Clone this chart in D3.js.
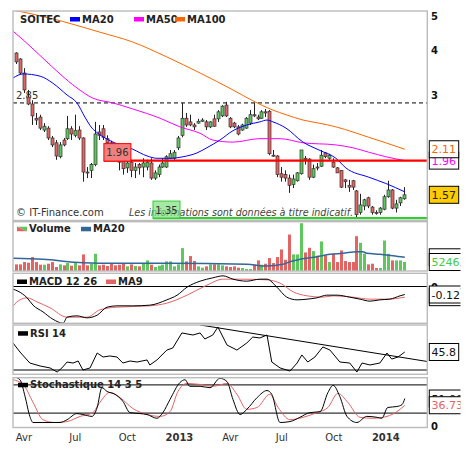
<!DOCTYPE html>
<html>
<head>
<meta charset="utf-8">
<script src="https://cdn.jsdelivr.net/npm/d3@7"></script>
<style>
  body { margin: 0; background: #fff; }
  svg { display: block; font-family: "DejaVu Sans", Verdana, sans-serif; }
</style>
</head>
<body>
<div id="chart"></div>
<script>
// weekly candles, first one is the week of 19 March 2012
const firstWeek = new Date(2012, 2, 19);

// [open, high, low, close]
const candles = [
  [3.94,3.96,3.67,3.72],[3.79,3.81,3.42,3.46],[3.46,3.57,3.04,3.10],[2.96,3.10,2.81,2.83],
  [2.83,2.90,2.47,2.62],[2.58,2.67,2.47,2.55],[2.60,2.64,2.39,2.42],[2.39,2.50,2.36,2.45],
  [2.42,2.45,2.24,2.27],[2.27,2.30,2.14,2.17],[2.20,2.24,1.97,2.02],[2.01,2.21,1.99,2.17],
  [2.24,2.27,2.15,2.17],[2.26,2.62,2.24,2.41],[2.41,2.45,2.24,2.33],[2.31,2.64,2.28,2.38],
  [2.39,2.45,2.24,2.27],[2.27,2.28,1.71,1.82],[1.82,1.88,1.75,1.81],[1.84,1.93,1.75,1.91],
  [1.91,2.52,1.89,2.33],[2.36,2.47,2.24,2.31],[2.41,2.47,2.24,2.28],[2.26,2.31,2.15,2.20],
  [2.20,2.23,2.07,2.10],[2.10,2.13,1.97,2.01],[2.02,2.06,1.84,1.94],[1.97,2.01,1.79,1.86],
  [1.87,1.97,1.81,1.93],[1.94,1.97,1.76,1.84],[1.84,1.93,1.75,1.88],[1.91,1.93,1.79,1.87],
  [1.88,1.99,1.76,1.93],[1.88,1.97,1.84,1.94],[1.93,1.99,1.73,1.75],[1.75,1.84,1.73,1.81],
  [1.79,1.91,1.76,1.88],[1.88,1.99,1.87,1.93],[1.88,2.03,1.87,2.01],[1.99,2.10,1.98,2.05],
  [1.99,2.10,1.97,2.07],[2.13,2.30,2.10,2.27],[2.31,2.85,2.28,2.58],[2.58,2.67,2.44,2.47],
  [2.52,2.64,2.45,2.47],[2.47,2.50,2.39,2.44],[2.50,2.57,2.49,2.53],[2.53,2.58,2.52,2.55],
  [2.52,2.55,2.39,2.44],[2.44,2.53,2.42,2.52],[2.57,2.64,2.44,2.45],[2.57,2.72,2.52,2.69],
  [2.62,2.81,2.60,2.79],[2.81,2.87,2.60,2.62],[2.58,2.60,2.42,2.44],[2.50,2.52,2.42,2.44],
  [2.44,2.47,2.31,2.33],[2.39,2.49,2.38,2.47],[2.42,2.60,2.41,2.58],[2.50,2.72,2.47,2.64],
  [2.64,2.85,2.60,2.62],[2.60,2.64,2.55,2.57],[2.58,2.72,2.57,2.69],[2.69,2.74,2.60,2.67],
  [2.70,2.72,2.03,2.05],[2.03,2.10,2.01,2.02],[2.02,2.03,1.76,1.79],[1.80,1.88,1.71,1.76],
  [1.79,1.84,1.71,1.75],[1.75,1.79,1.59,1.67],[1.68,1.79,1.64,1.74],[1.72,1.82,1.71,1.81],
  [1.80,2.10,1.79,2.10],[1.99,2.02,1.91,1.97],[1.98,1.99,1.73,1.76],[1.76,1.91,1.75,1.86],
  [1.88,1.93,1.84,1.87],[1.89,2.10,1.88,2.03],[2.06,2.07,1.99,2.01],[1.99,2.05,1.97,2.03],
  [1.94,1.99,1.87,1.88],[1.87,1.88,1.81,1.81],[1.84,1.84,1.64,1.65],[1.73,1.74,1.64,1.71],
  [1.67,1.73,1.60,1.65],[1.72,1.73,1.62,1.65],[1.61,1.62,1.35,1.38],[1.40,1.58,1.38,1.47],
  [1.46,1.53,1.42,1.52],[1.54,1.55,1.44,1.46],[1.45,1.46,1.38,1.40],[1.40,1.42,1.38,1.39],
  [1.40,1.45,1.38,1.44],[1.43,1.57,1.42,1.55],[1.55,1.72,1.54,1.62],[1.62,1.63,1.43,1.44],
  [1.44,1.52,1.40,1.48],[1.49,1.55,1.46,1.54],[1.53,1.65,1.52,1.57]
];

const volumes = [
  3870,3870,5220,4840,8120,5220,3680,3680,4250,5220,2320,3870,3290,4640,3090,4640,
  3290,9670,3290,4250,10050,3290,3680,2900,4250,3290,3680,4250,2710,3870,2900,2710,
  4250,6190,3680,2320,3090,3680,5610,5610,2710,3870,13340,5610,8700,5800,2710,1930,
  2710,3870,3870,3870,3290,2710,2320,2710,1930,1740,1160,1160,3680,6190,3680,4250,
  7540,4640,8120,12570,6570,21260,9670,9670,27840,10830,13530,11600,8890,17210,9090,5220,
  10050,5220,11990,5800,5220,5220,20300,16430,10050,3870,4250,1740,1740,17790,10050,6190,
  6190,6190,5246
];

// [week index, value]
const ma20 = [[-0.76,3.35],[1.8,3.44],[6.1,3.39],[9.3,3.24],[12.9,3.00],[15.4,2.85],[17.4,2.60],
  [19.2,2.42],[20.7,2.34],[22.5,2.27],[24.5,2.21],[29.5,2.11],[33.1,2.02],[35.6,1.99],[38.9,1.99],
  [42.2,2.01],[45.7,2.06],[48.2,2.13],[51.5,2.24],[54.8,2.38],[58.3,2.47],[61.6,2.52],[63.4,2.55],
  [64.9,2.52],[68.2,2.42],[72.5,2.21],[76.5,2.10],[80.8,1.99],[83.3,1.87],[89.1,1.76],[93.4,1.69],
  [98.2,1.60]];
const ma50 = [[-0.76,4.54],[1.8,4.29],[6.8,3.81],[11.1,3.44],[15.4,3.14],[19.4,2.94],[24.5,2.85],
  [29.5,2.74],[36.4,2.58],[41.4,2.44],[46.5,2.34],[49.7,2.24],[54.8,2.21],[61.6,2.26],[66.7,2.26],
  [72.5,2.20],[80.8,2.17],[85.1,2.13],[89.1,2.07],[93.4,2.01],[98.2,1.96]];
const ma100 = [[-0.76,5.21],[8.6,4.94],[21.2,4.51],[29.5,4.23],[38.1,3.84],[46.5,3.46],[54.8,3.10],
  [59.8,2.89],[64.9,2.72],[68.2,2.64],[72.5,2.55],[76.5,2.50],[80.8,2.44],[85.1,2.36],[89.1,2.28],
  [93.4,2.20],[98.2,2.11]];

const volMa20 = [[-0.76,7400],[6.8,6820],[16.9,4840],[25.5,4490],[38.1,4490],[58.3,3900],[63.4,2900],
  [67.4,3900],[69.2,5420],[71.7,6820],[76,8340],[79.3,9740],[82.6,10320],[86.1,11250],[87.6,11250],
  [88.6,10320],[91.9,9740],[95.2,8920],[98.2,7990]];

const macd = [[-0.76,-0.04],[0.5,-0.07],[2.8,-0.17],[4.3,-0.28],[6.8,-0.38],[9.3,-0.49],[11.9,-0.55],
  [12.9,-0.46],[15.4,-0.44],[17.9,-0.47],[20.5,-0.43],[23,-0.31],[25.5,-0.29],[29.5,-0.29],[33.8,-0.28],
  [38.1,-0.20],[40.7,-0.13],[43.2,-0.01],[46.5,0.08],[49.7,0.13],[52.3,0.16],[54.8,0.11],[58.3,0.08],
  [61.6,0.11],[63.4,0.11],[65.9,-0.01],[68.4,-0.16],[71,-0.20],[73.5,-0.19],[76,-0.17],[78.5,-0.13],
  [81.1,-0.13],[84.3,-0.16],[86.9,-0.19],[89.4,-0.22],[91.9,-0.20],[94.4,-0.19],[97,-0.14],[98.2,-0.12]];
const macdMa9 = [[-0.76,-0.29],[1.0,-0.20],[2.8,-0.17],[5.3,-0.23],[8.6,-0.32],[12.9,-0.46],[17.9,-0.46],
  [21.2,-0.35],[25.5,-0.31],[33.8,-0.29],[38.1,-0.25],[43.2,-0.13],[48.2,0.02],[52.3,0.11],[56.6,0.11],
  [63.4,0.10],[66.7,0.05],[70,-0.08],[73.5,-0.14],[77.5,-0.16],[80.1,-0.14],[85.1,-0.16],[89.4,-0.19],
  [93.7,-0.19],[98.2,-0.16]];

const rsi = [[-0.76,53.7],[1.0,45.8],[3.5,36.1],[6.1,33.5],[8.6,31.8],[10.4,28.2],[11.6,31.8],[12.9,37.0],
  [14.4,36.1],[15.7,37.9],[16.9,30.0],[18.7,31.8],[20.5,44.9],[22.0,41.4],[23.7,42.3],[25.5,41.4],
  [27.0,36.1],[28.8,37.9],[30.6,37.0],[33.1,38.8],[33.8,34.4],[35.6,38.8],[38.1,47.5],[39.6,49.3],
  [41.9,62.5],[44.7,60.7],[46.5,62.5],[47.7,57.2],[49.7,60.7],[51.0,67.7],[53.3,51.9],[55.8,47.5],
  [58.3,53.7],[59.8,58.9],[61.6,58.1],[63.4,60.7],[64.6,37.0],[66.7,31.8],[69.2,29.1],[71.0,36.1],
  [72.2,43.2],[73.7,37.0],[75.5,41.4],[77.5,50.2],[79.3,47.5],[81.8,37.0],[84.3,36.1],[86.1,28.2],
  [87.4,36.1],[89.4,34.4],[91.9,36.1],[93.7,44.9],[94.9,39.6],[96.5,41.4],[98.2,45.8]];
const rsiTrend = [[46.5,69.5],[103.8,37.5]];

const stochK = [[-0.76,98],[1.0,91],[2.3,55],[3.5,13],[4.3,0],[6.8,0],[9.3,0],[11.1,0],[12.9,6],
  [15.4,19],[16.9,17],[19.2,13],[20.5,32],[21.7,74],[23.0,66],[25.0,60],[27.0,45],[28.8,21],[31.3,19],
  [33.1,17],[35.6,9],[37.1,21],[38.9,49],[41.4,85],[42.7,91],[43.9,77],[46.5,77],[49.0,74],[51.5,94],
  [53.3,87],[54.8,49],[56.6,17],[58.3,28],[60.9,53],[63.4,68],[64.6,60],[66.7,0],[69.2,2],[71.7,11],
  [74.2,21],[76.8,23],[78.8,64],[80.1,79],[81.8,55],[83.6,13],[86.1,0],[88.6,13],[91.2,11],[92.4,9],
  [93.9,32],[96.2,34],[97.5,38],[98.2,51]];
const stochD = [[-0.76,91],[1.8,81],[4.3,43],[6.8,6],[9.8,0],[12.9,2],[16.2,13],[19.4,21],[21.2,43],
  [23.7,64],[26.3,53],[29.5,30],[33.1,17],[36.4,13],[38.9,23],[40.9,66],[43.2,83],[46.5,81],[49.7,77],
  [53.3,83],[55.8,60],[58.3,28],[60.9,32],[64.1,60],[66.2,32],[69.2,6],[72.5,11],[76.0,21],[78.8,32],
  [81.3,62],[83.8,43],[86.9,11],[90.2,9],[93.7,13],[96.2,23],[98.2,36.73]];

// horizontal levels drawn on the price panel and the week they start from
const levelValues = [2.85, 1.96, 1.35];
const levelFrom = [-0.76, 22.2, 34.6];

const priceTicks = [2, 3, 4, 5];
const monthTicks = [[2012,3,"Avr"],[2012,6,"Jul"],[2012,9,"Oct"],[2013,0,"2013"],
  [2013,3,"Avr"],[2013,6,"Jul"],[2013,9,"Oct"],[2014,0,"2014"]];

// ---------------------------------------------------------------
const width = 472, height = 452;
const left = 13, right = 427.3;
const panels = {
  main: [11, 220.5],
  vol: [221.7, 271],
  macd: [273.3, 323.3],
  rsi: [325, 374.3],
  sto: [377.7, 427.5]
};
const green = "#5ec85e", red = "#e46464";

const wk = (i) => new Date(firstWeek.getTime() + i * 7 * 864e5);

const svg = d3.select("#chart").append("svg")
  .attr("width", width).attr("height", height);

const x = d3.scaleTime().domain([wk(0), wk(98)]).range([16, 404]);
const y = d3.scaleLog().domain([2, 5]).range([157.5, 16.3]);
const yVol = d3.scaleLinear().domain([0, 28570]).range([271, 222]);
const yMacd = d3.scaleLinear().domain([0, -0.12]).range([286.5, 294.5]);
const yRsi = d3.scaleLinear().domain([30, 70]).range([370, 324.4]);
const ySto = d3.scaleLinear().domain([0, 100]).range([422.5, 375.5]);

const defs = svg.append("defs");
const layer = {};
Object.entries(panels).forEach(([name, [t, b]]) => {
  defs.append("clipPath").attr("id", "clip-" + name)
    .append("rect").attr("x", left).attr("y", t).attr("width", right - left).attr("height", b - t);
  layer[name] = svg.append("g").attr("clip-path", `url(#clip-${name})`);
});
defs.append("clipPath").attr("id", "clip-tags")
  .append("rect").attr("x", 428).attr("y", 0).attr("width", 32.5).attr("height", height);

const lineOf = (ys, curve) => d3.line()
  .x((d) => x(wk(d[0]))).y((d) => ys(d[1]))
  .curve(curve || d3.curveLinear);

// ---------- price panel ----------
const main = layer.main;

main.append("text").attr("x", 16).attr("y", 215.5)
  .attr("font-size", 10).attr("fill", "#333").text("© IT-Finance.com");
main.append("text").attr("x", 129).attr("y", 215.5)
  .attr("font-size", 9.6).attr("font-style", "italic").attr("fill", "#444")
  .text("Les informations sont données à titre indicatif.");

// dashed level + its label
main.append("line")
  .attr("x1", x(wk(levelFrom[0]))).attr("x2", right)
  .attr("y1", y(levelValues[0])).attr("y2", y(levelValues[0]))
  .attr("stroke", "#000").attr("stroke-dasharray", "4,3");
main.append("text").attr("x", 16).attr("y", y(levelValues[0]) - 3.5)
  .attr("font-size", 10).attr("fill", "#333").text(levelValues[0].toFixed(2));

// candles
const cw = 3;
const cg = main.append("g");
candles.forEach((d, i) => {
  const cx = Math.round(x(wk(i))) + 0.5;
  const [o, h, l, c] = d;
  cg.append("line").attr("x1", cx).attr("x2", cx)
    .attr("y1", y(h)).attr("y2", y(l)).attr("stroke", "#222").attr("stroke-width", 1);
  const top = y(Math.max(o, c)), bot = y(Math.min(o, c));
  cg.append("rect").attr("x", cx - cw / 2).attr("width", cw)
    .attr("y", top).attr("height", Math.max(1, bot - top))
    .attr("fill", c >= o ? green : red).attr("stroke", "#333").attr("stroke-width", 0.7);
});

// moving averages
[[ma100, "#ff6600"], [ma50, "#ff00ff"], [ma20, "#0000ff"]].forEach(([s, col]) => {
  main.append("path").datum(s).attr("fill", "none").attr("stroke", col)
    .attr("stroke-width", 1).attr("d", lineOf(y, d3.curveMonotoneX));
});

// support / resistance lines with their tags
[[1, "#ff0000", "#f08080", 1], [2, "#33cc33", "#7ee07e", 0.7]].forEach(([k, col, fill, op]) => {
  const ly = y(levelValues[k]);
  const lx = x(wk(levelFrom[k]));
  main.append("line").attr("x1", lx).attr("x2", right).attr("y1", ly).attr("y2", ly)
    .attr("stroke", col).attr("stroke-width", 2.2);
  main.append("rect").attr("x", lx).attr("y", ly - 17).attr("width", 27).attr("height", 17.5)
    .attr("fill", fill).attr("fill-opacity", op).attr("stroke", col).attr("stroke-width", 1);
  main.append("text").attr("x", lx + 13.5).attr("y", ly - 4.5).attr("text-anchor", "middle")
    .attr("font-size", 10).attr("fill", "#333").text(levelValues[k].toFixed(2));
});

// ---------- volume ----------
const vol = layer.vol;
volumes.forEach((v, i) => {
  const cx = Math.round(x(wk(i))) + 0.5;
  const d = candles[i];
  vol.append("rect").attr("x", cx - 1.5).attr("width", 3)
    .attr("y", yVol(v)).attr("height", yVol(0) - yVol(v))
    .attr("fill", d[3] >= d[0] ? green : red);
});
vol.append("path").datum(volMa20).attr("fill", "none").attr("stroke", "#336699")
  .attr("stroke-width", 1.5).attr("d", lineOf(yVol, d3.curveMonotoneX));

// ---------- MACD ----------
const mg = layer.macd;
mg.append("line").attr("x1", left).attr("x2", right)
  .attr("y1", yMacd(0)).attr("y2", yMacd(0)).attr("stroke", "#000");
mg.append("path").datum(macdMa9).attr("fill", "none").attr("stroke", red)
  .attr("stroke-width", 1).attr("d", lineOf(yMacd, d3.curveMonotoneX));
mg.append("path").datum(macd).attr("fill", "none").attr("stroke", "#000")
  .attr("stroke-width", 1).attr("d", lineOf(yMacd, d3.curveMonotoneX));

// ---------- RSI ----------
const rg = layer.rsi;
rg.append("line").attr("x1", left).attr("x2", right)
  .attr("y1", yRsi(30)).attr("y2", yRsi(30)).attr("stroke", "#000");
rg.append("path").datum(rsiTrend).attr("fill", "none").attr("stroke", "#000")
  .attr("stroke-width", 1).attr("d", lineOf(yRsi));
rg.append("path").datum(rsi).attr("fill", "none").attr("stroke", "#000")
  .attr("stroke-width", 1).attr("d", lineOf(yRsi));

// ---------- stochastic ----------
const sg = layer.sto;
[80, 20].forEach((v) => {
  sg.append("line").attr("x1", left).attr("x2", right)
    .attr("y1", ySto(v)).attr("y2", ySto(v)).attr("stroke", "#000");
});
sg.append("path").datum(stochD).attr("fill", "none").attr("stroke", red)
  .attr("stroke-width", 1).attr("d", lineOf(ySto, d3.curveMonotoneX));
sg.append("path").datum(stochK).attr("fill", "none").attr("stroke", "#000")
  .attr("stroke-width", 1).attr("d", lineOf(ySto, d3.curveMonotoneX));

// ---------- panel borders ----------
Object.values(panels).forEach(([t, b]) => {
  svg.append("rect").attr("x", left).attr("y", t).attr("width", right - left).attr("height", b - t)
    .attr("fill", "none").attr("stroke", "#bbb").attr("stroke-width", 1.4);
});

// ---------- legends ----------
function legend(items, ty) {
  const g = svg.append("g").attr("font-size", 10).attr("font-weight", "bold").attr("fill", "#222");
  items.forEach(([lx, txt, col]) => {
    if (col) {
      if (col === "vol") {
        g.append("path").attr("d", `M${lx},${ty - 5.5}h10v4.5z`).attr("fill", green);
        g.append("path").attr("d", `M${lx},${ty - 5.5}v4.5h10z`).attr("fill", red);
      } else {
        g.append("rect").attr("x", lx).attr("y", ty - 5.5).attr("width", 10).attr("height", 4.5).attr("fill", col);
      }
      g.append("text").attr("x", lx + 12).attr("y", ty).text(txt);
    } else {
      g.append("text").attr("x", lx).attr("y", ty).text(txt);
    }
  });
}
legend([[20, "SOITEC"], [70, "MA20", "#0000ff"], [134, "MA50", "#ff00ff"], [175, "MA100", "#ff6600"]], 22.5);
legend([[17, "Volume", "vol"], [81, "MA20", "#336699"]], 232.3);
legend([[17, "MACD 12 26", "#000"], [106, "MA9", red]], 285);
legend([[18, "RSI 14", "#000"]], 336.7);
legend([[18, "Stochastique 14 3 5", "#000"]], 388.3);

// ---------- right axis labels ----------
const pa = svg.append("g").attr("transform", `translate(429,0)`)
  .call(d3.axisRight(y).tickValues(priceTicks).tickFormat(d3.format("d")).tickSize(0).tickPadding(2));
pa.select(".domain").remove();
pa.selectAll("text").attr("font-family", "DejaVu Sans").attr("font-size", 10)
  .attr("font-weight", "bold").attr("fill", "#111");
pa.attr("font-family", null).attr("font-size", null);

[[yMacd, 0, 0], [ySto, 0, 3]].forEach(([sc, v, dy]) => {
  svg.append("text").attr("x", 431).attr("y", sc(v) + 4 + dy)
    .attr("font-size", 10).attr("font-weight", "bold").attr("fill", "#111").text(v);
});

// value tags (drawn last so later ones cover earlier ones)
function tag(yc, txt, color, fill, open) {
  const g = svg.append("g").attr("clip-path", "url(#clip-tags)");
  g.append("rect").attr("x", 429.3).attr("y", yc - 8.5)
    .attr("width", open ? 40 : 29.4).attr("height", 17)
    .attr("fill", fill).attr("stroke", "#000").attr("stroke-width", 1);
  g.append("text").attr("x", 431.5).attr("y", yc + 4)
    .attr("font-size", 11).attr("fill", color).text(txt);
}
const last = (s) => s[s.length - 1][1];
tag(y(last(ma50)), last(ma50).toFixed(2), "#ff00ff", "#fff");
tag(y(last(ma100)), last(ma100).toFixed(2), "#ff6600", "#fff");
tag(y(candles[98][3]), candles[98][3].toFixed(2), "#222", "#ffcc00");
tag(yVol(last(volMa20)), String(last(volMa20)), "#336699", "#fff", true);
tag(yVol(volumes[98]), String(volumes[98]), "#44cc44", "#fff", true);
tag(yMacd(last(macdMa9)), last(macdMa9).toFixed(2), red, "#fff", true);
tag(yMacd(last(macd)), last(macd).toFixed(2), "#111", "#fff", true);
tag(yRsi(last(rsi)), last(rsi).toFixed(1), "#111", "#fff");
tag(ySto(last(stochK)), last(stochK).toFixed(2), "#111", "#fff", true);
tag(ySto(last(stochD)), last(stochD).toFixed(2), red, "#fff", true);

// ---------- time axis ----------
const tickDates = monthTicks.map((d) => new Date(d[0], d[1], 1));
const ax = svg.append("g").attr("transform", "translate(0,433.6)")
  .call(d3.axisBottom(x).tickValues(tickDates)
    .tickFormat((d, i) => monthTicks[i][2]).tickSize(0).tickPadding(0));
ax.select(".domain").remove();
ax.selectAll("text").attr("font-family", "DejaVu Sans").attr("font-size", 10).attr("fill", "#333")
  .attr("font-weight", (d, i) => (monthTicks[i][1] === 0 ? "bold" : "normal"));
</script>
</body>
</html>
